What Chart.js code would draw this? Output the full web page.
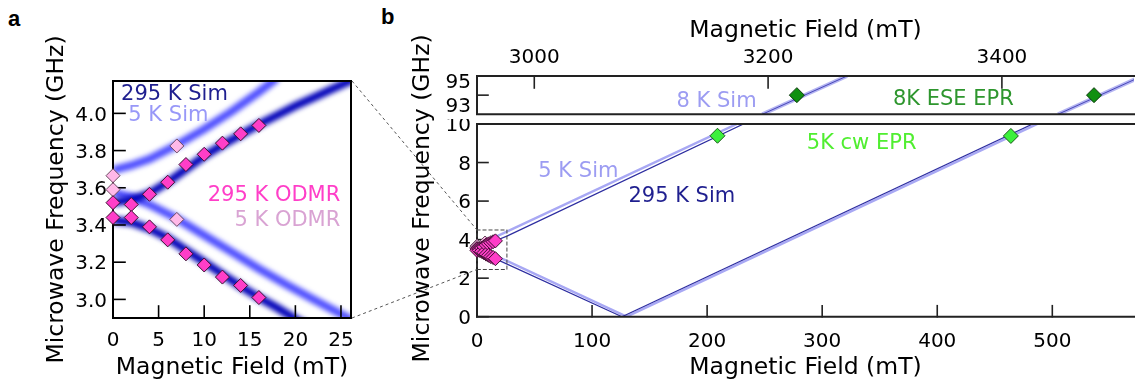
<!DOCTYPE html>
<html><head><meta charset="utf-8">
<script src="https://cdn.jsdelivr.net/npm/chart.js@4.4.1/dist/chart.umd.min.js"></script>
<style>
html,body{margin:0;padding:0;background:#fff;width:1135px;height:382px;overflow:hidden;position:relative;}
canvas{position:absolute;}
.lbl{position:absolute;font:bold 22px "Liberation Sans",Arial,sans-serif;line-height:22px;color:#000;}
</style></head><body>
<div class="lbl" style="left:8px;top:8px">a</div>
<div class="lbl" style="left:381px;top:6px">b</div>
<canvas id="ca" style="left:0;top:0" width="380" height="382"></canvas>
<canvas id="cbt" style="left:380px;top:0" width="755" height="119"></canvas>
<canvas id="cbb" style="left:380px;top:119px" width="755" height="263"></canvas>
<canvas id="ov" style="left:0;top:0;z-index:10;pointer-events:none" width="1135" height="382"></canvas>
<script>
// ================= DATA =================
// Panel a (zoom: 0-26 mT, 2.9-4.17 GHz)
const aFieldTicks = [0, 5, 10, 15, 20, 25];
const aFreqTicks = [3.0, 3.2, 3.4, 3.6, 3.8, 4.0];
const sim295UpField = [0, 2, 4, 6, 8, 10, 12, 14, 16, 18, 20, 22, 24, 26, 27];
const sim295UpFreq  = [3.52, 3.535, 3.57, 3.63, 3.70, 3.77, 3.83, 3.885, 3.94, 3.99, 4.04, 4.085, 4.13, 4.175, 4.2];
const sim295LoField = [0, 2, 4, 6, 8, 10, 12, 14, 16, 18, 20, 22];
const sim295LoFreq  = [3.425, 3.415, 3.38, 3.33, 3.265, 3.20, 3.135, 3.07, 3.01, 2.955, 2.895, 2.84];
const sim5UpField = [0, 2, 4, 7, 10, 13, 16, 18];
const sim5UpFreq  = [3.695, 3.72, 3.755, 3.83, 3.915, 4.01, 4.115, 4.19];
const sim5LoField = [0, 2, 4, 7, 10, 13, 16, 19, 22, 26, 27];
const sim5LoFreq  = [3.575, 3.55, 3.51, 3.435, 3.345, 3.255, 3.165, 3.08, 3.0, 2.895, 2.87];
const odmr295Field = [0, 0, 2, 2, 4, 4, 6, 6, 8, 8, 10, 10, 12, 12, 14, 14, 16, 16];
const odmr295Freq  = [3.52, 3.44, 3.51, 3.44, 3.565, 3.39, 3.63, 3.32, 3.725, 3.245, 3.78, 3.185, 3.84, 3.12, 3.89, 3.075, 3.935, 3.01];
const odmr5Field = [0, 0, 7, 7];
const odmr5Freq  = [3.665, 3.59, 3.825, 3.43];

// Panel b, lower plot (0-571 mT, 0-10 GHz)
const bFieldTicks = [0, 100, 200, 300, 400, 500];
const bFreqTicks = [0, 2, 4, 6, 8, 10];
const sim295bUpField = [0, 16, 26, 240];
const sim295bUpFreq  = [3.52, 3.94, 4.18, 10.24];
const sim295bLoField = [0, 20, 126];
const sim295bLoFreq  = [3.425, 2.895, 0];
const sim295bRiseField = [126, 490];
const sim295bRiseFreq  = [0, 10.2];
const sim5bUpField = [0, 18, 240];
const sim5bUpFreq  = [3.695, 4.19, 10.4];
const sim5bLoField = [0, 26, 130];
const sim5bLoFreq  = [3.575, 2.895, 0];
const sim5bRiseField = [130, 494];
const sim5bRiseFreq  = [0, 10.2];
const cwEprField = [209, 464];
const cwEprFreq  = [9.39, 9.38];
const zoomBoxField = [0, 26];
const zoomBoxFreq  = [2.45, 4.5];

// Panel b, upper plot (W band)
const bTopFieldTicks = [3000, 3200, 3400];
const bTopFreqTicks = [93, 95];
const bTopMinorTicks = [94];
const sim8K1Field = [3195, 3267.5];
const sim8K1Freq  = [93, 95];
const sim8K2Field = [3448, 3520];
const sim8K2Freq  = [93, 95];
const eseEprField = [3224.6, 3478.8];
const eseEprFreq  = [94.0, 94.0];

// ================= STYLE / HELPERS =================
const FONT = "'DejaVu Sans', sans-serif";
Chart.defaults.font.family = FONT;
Chart.defaults.color = '#000';
const pts = (xs, ys) => xs.map((x, i) => ({x: x, y: ys[i]}));
function lineDS(xs, ys, color, width, extra) {
  return Object.assign({data: pts(xs, ys), showLine: true, borderColor: color, borderWidth: width,
    pointRadius: 0, pointHoverRadius: 0, fill: false, tension: 0}, extra || {});
}
function pointDS(xs, ys, fill, stroke, r, extra) {
  return Object.assign({data: pts(xs, ys), showLine: false, pointStyle: 'rectRot', pointRadius: r,
    pointHoverRadius: r, pointBackgroundColor: fill, pointBorderColor: stroke, pointBorderWidth: 1,
    clip: false}, extra || {});
}
function drawFrame(chart) {
  const o = chart.options.plugins.frame || {};
  const ca = chart.chartArea, ctx = chart.ctx;
  ctx.save();
  ctx.strokeStyle = o.color || '#000';
  ctx.lineWidth = o.width || 2;
  ctx.lineCap = 'square';
  const sides = o.sides || ['top', 'right', 'bottom', 'left'];
  ctx.beginPath();
  if (sides.includes('top')) { ctx.moveTo(ca.left, ca.top); ctx.lineTo(ca.right, ca.top); }
  if (sides.includes('right')) { ctx.moveTo(ca.right, ca.top); ctx.lineTo(ca.right, ca.bottom); }
  if (sides.includes('bottom')) { ctx.moveTo(ca.left, ca.bottom); ctx.lineTo(ca.right, ca.bottom); }
  if (sides.includes('left')) { ctx.moveTo(ca.left, ca.top); ctx.lineTo(ca.left, ca.bottom); }
  ctx.stroke();
  // inner tick marks
  (o.marks || []).forEach(m => {
    const sc = chart.scales[m.scale];
    ctx.lineWidth = m.width || 1.6;
    m.values.forEach(v => {
      const p = sc.getPixelForValue(v);
      ctx.beginPath();
      if (m.side === 'bottom') { ctx.moveTo(p, ca.bottom); ctx.lineTo(p, ca.bottom - m.len); }
      if (m.side === 'top') { ctx.moveTo(p, ca.top); ctx.lineTo(p, ca.top + m.len); }
      if (m.side === 'left') { ctx.moveTo(ca.left, p); ctx.lineTo(ca.left + m.len, p); }
      ctx.stroke();
    });
  });
  // tick labels nudged inward (labels at the very ends of a short axis)
  (o.tickText || []).forEach(t => {
    const sc = chart.scales[t.scale];
    ctx.font = t.size + 'px ' + FONT; ctx.fillStyle = '#000';
    ctx.textAlign = 'right'; ctx.textBaseline = 'middle';
    t.values.forEach((v, i) => ctx.fillText(String(v), ca.left - t.pad, sc.getPixelForValue(v) + t.offsets[i]));
  });
  // dashed zoom box
  if (o.box) {
    const xs = chart.scales.x, ys = chart.scales.y;
    const x0 = xs.getPixelForValue(o.box.x[0]), x1 = xs.getPixelForValue(o.box.x[1]);
    const y0 = ys.getPixelForValue(o.box.y[1]), y1 = ys.getPixelForValue(o.box.y[0]);
    ctx.setLineDash([3, 3]); ctx.lineWidth = 1; ctx.strokeStyle = '#444';
    ctx.strokeRect(x0, y0, x1 - x0, y1 - y0);
    ctx.setLineDash([]);
  }
  ctx.restore();
}
const customPlugin = {
  id: 'custom',
  beforeDatasetDraw(chart, args) {
    const ds = chart.data.datasets[args.index];
    if (ds.blur) { chart.ctx.save(); chart.ctx.filter = 'blur(' + ds.blur + 'px)'; }
  },
  afterDatasetDraw(chart, args) {
    const ds = chart.data.datasets[args.index];
    if (ds.blur) chart.ctx.restore();
    if (ds.frameAfter) drawFrame(chart);
  },
  afterDatasetsDraw(chart) {
    const o = chart.options.plugins.textLabels || {};
    const ctx = chart.ctx;
    ctx.save();
    (o.items || []).forEach(it => {
      const xs = chart.scales[it.xAxis || 'x'], ys = chart.scales[it.yAxis || 'y'];
      ctx.font = (it.size || 21) + 'px ' + FONT;
      ctx.fillStyle = it.color;
      ctx.textAlign = it.align || 'left';
      ctx.textBaseline = 'middle';
      ctx.fillText(it.text, xs.getPixelForValue(it.x), ys.getPixelForValue(it.y));
    });
    ctx.restore();
  }
};
Chart.register(customPlugin);

const tickFont = {size: 20, family: FONT};
const titleFont = {size: 23.5, family: FONT};
function fixSize(w, h) {
  return s => {
    if (w !== null) s.width = w;
    if (h !== null) s.height = h;
    s.paddingLeft = 0; s.paddingRight = 0; s.paddingTop = 0; s.paddingBottom = 0;
  };
}
function linAxis(o) {
  return Object.assign({type: 'linear', grid: {display: false, drawTicks: false}, border: {display: false}}, o);
}
const baseOpts = {responsive: false, animation: false, events: [],
  plugins: {legend: {display: false}, tooltip: {enabled: false}}};

// ================= PANEL a =================
const chartA = new Chart(document.getElementById('ca'), {
  type: 'scatter',
  data: {datasets: [
    pointDS(odmr295Field, odmr295Freq, '#ff3ec8', '#3a0f2e', 7),
    pointDS(odmr5Field, odmr5Freq, '#ffb8e8', '#6a4a60', 7),
    lineDS(sim295UpField, sim295UpFreq, '#0000b8', 8, {blur: 2.6, frameAfter: true}),
    lineDS(sim295LoField, sim295LoFreq, '#0000b8', 8, {blur: 2.6}),
    lineDS(sim5UpField, sim5UpFreq, '#4c4cff', 8, {blur: 2.8}),
    lineDS(sim5LoField, sim5LoFreq, '#4c4cff', 8, {blur: 2.8}),
  ]},
  options: Object.assign({}, baseOpts, {
    layout: {autoPadding: false, padding: {top: 81, right: 29, bottom: 0, left: 0}},
    scales: {
      x: linAxis({position: 'bottom', min: 0, max: 26.1,
        afterBuildTicks: s => { s.ticks = aFieldTicks.map(v => ({value: v})); },
        afterFit: fixSize(null, 64),
        ticks: {font: tickFont, color: '#000', padding: 11, autoSkip: false, maxRotation: 0},
        title: {display: true, text: 'Magnetic Field (mT)', font: titleFont, color: '#000', padding: {top: 0, bottom: 0}}}),
      y: linAxis({position: 'left', min: 2.9, max: 4.174,
        afterBuildTicks: s => { s.ticks = aFreqTicks.map(v => ({value: v})); },
        afterFit: fixSize(113, null),
        ticks: {font: tickFont, color: '#000', padding: 6, labelOffset: 2, autoSkip: false, callback: v => v.toFixed(1)},
        title: {display: true, text: 'Microwave Frequency (GHz)', font: titleFont, color: '#000', padding: {top: 42.5, bottom: 0}}}),
    },
    plugins: Object.assign({}, baseOpts.plugins, {
      frame: {width: 2, marks: [
        {scale: 'x', side: 'bottom', values: aFieldTicks, len: 12},
        {scale: 'y', side: 'left', values: aFreqTicks, len: 12}]},
      textLabels: {items: [
        {text: '295 K Sim', x: 0.88, y: 4.10, color: '#1f1f8f'},
        {text: '5 K Sim', x: 1.68, y: 3.988, color: '#9898f8'},
        {text: '295 K ODMR', x: 24.93, y: 3.558, color: '#ff3ec8', align: 'right'},
        {text: '5 K ODMR', x: 24.93, y: 3.422, color: '#d9a3d3', align: 'right'}]}
    })
  })
});

// ================= PANEL b, upper =================
const chartBT = new Chart(document.getElementById('cbt'), {
  type: 'scatter',
  data: {datasets: [
    pointDS(eseEprField, eseEprFreq, '#109010', '#0a3a0a', 7.5),
    lineDS(sim8K1Field, sim8K1Freq, '#4848b8', 1, {frameAfter: true}),
    lineDS(sim8K2Field, sim8K2Freq, '#4848b8', 1),
    lineDS(sim8K1Field, sim8K1Freq, '#b4b4f2', 4),
    lineDS(sim8K2Field, sim8K2Freq, '#b4b4f2', 4),
  ]},
  options: Object.assign({}, baseOpts, {
    layout: {autoPadding: false, padding: {top: 0, right: 1, bottom: 4.7, left: 0}},
    scales: {
      x: linAxis({position: 'top', min: 2951, max: 3513,
        afterBuildTicks: s => { s.ticks = bTopFieldTicks.map(v => ({value: v})); },
        afterFit: fixSize(null, 76),
        ticks: {font: tickFont, color: '#000', padding: 6, autoSkip: false, maxRotation: 0, callback: v => String(v)},
        title: {display: true, text: 'Magnetic Field (mT)', font: titleFont, color: '#000', padding: {top: 17, bottom: 0}}}),
      y: linAxis({position: 'left', min: 93, max: 95,
        afterBuildTicks: s => { s.ticks = bTopFreqTicks.map(v => ({value: v})); },
        afterFit: fixSize(97, null),
        ticks: {display: false}}),
    },
    plugins: Object.assign({}, baseOpts.plugins, {
      frame: {width: 2, color: '#222', sides: ['top', 'bottom', 'left'],
        tickText: [{scale: 'y', values: bTopFreqTicks, offsets: [-8, 6.5], pad: 6, size: 20}],
        marks: [
        {scale: 'x', side: 'top', values: bTopFieldTicks, len: 12},
        {scale: 'y', side: 'left', values: bTopMinorTicks, len: 11}]},
      textLabels: {items: [
        {text: '8 K Sim', x: 3121.7, y: 93.64, color: '#9c9cf2'},
        {text: '8K ESE EPR', x: 3306.8, y: 93.78, color: '#2e962e'}]}
    })
  })
});

// ================= PANEL b, lower =================
const chartBB = new Chart(document.getElementById('cbb'), {
  type: 'scatter',
  data: {datasets: [
    pointDS(cwEprField, cwEprFreq, '#3cf03c', '#1a5a1a', 7.5),
    pointDS(odmr295Field, odmr295Freq, '#ff3ec8', '#3a0f2e', 7),
    pointDS(odmr5Field, odmr5Freq, '#ffb8e8', '#6a4a60', 7),
    lineDS(sim295bUpField, sim295bUpFreq, '#2d2da0', 1.2, {frameAfter: true}),
    lineDS(sim295bLoField, sim295bLoFreq, '#2d2da0', 1.2),
    lineDS(sim295bRiseField, sim295bRiseFreq, '#2d2da0', 1.2),
    lineDS(sim5bUpField, sim5bUpFreq, '#a8a8f4', 2.4),
    lineDS(sim5bLoField, sim5bLoFreq, '#a8a8f4', 2.4),
    lineDS(sim5bRiseField, sim5bRiseFreq, '#a8a8f4', 2.4),
  ]},
  options: Object.assign({}, baseOpts, {
    layout: {autoPadding: false, padding: {top: 5, right: 1, bottom: 0, left: 0}},
    scales: {
      x: linAxis({position: 'bottom', min: 0, max: 571,
        afterBuildTicks: s => { s.ticks = bFieldTicks.map(v => ({value: v})); },
        afterFit: fixSize(null, 65.3),
        ticks: {font: tickFont, color: '#000', padding: 13.5, autoSkip: false, maxRotation: 0},
        title: {display: true, text: 'Magnetic Field (mT)', font: titleFont, color: '#000', padding: {top: 0, bottom: 0}}}),
      y: linAxis({position: 'left', min: 0, max: 10,
        afterBuildTicks: s => { s.ticks = bFreqTicks.map(v => ({value: v})); },
        afterFit: fixSize(97, null),
        ticks: {font: tickFont, color: '#000', padding: 6, labelOffset: 2, autoSkip: false}}),
    },
    plugins: Object.assign({}, baseOpts.plugins, {
      frame: {width: 2, color: '#222', sides: ['top', 'bottom', 'left'], box: {x: zoomBoxField, y: zoomBoxFreq}, marks: [
        {scale: 'x', side: 'bottom', values: bFieldTicks, len: 11},
        {scale: 'y', side: 'left', values: bFreqTicks, len: 11}]},
      textLabels: {items: [
        {text: '5 K Sim', x: 53.3, y: 7.51, color: '#9c9cf2'},
        {text: '295 K Sim', x: 131.6, y: 6.21, color: '#1f1f8f'},
        {text: '5K cw EPR', x: 286.6, y: 9.01, color: '#50ee30'}]}
    })
  })
});

// ================= OVERLAY: connectors + shared y title =================
(function () {
  const ov = document.getElementById('ov').getContext('2d');
  const caA = chartA.chartArea;
  const offB = {x: 380, y: 119};
  const xs = chartBB.scales.x, ys = chartBB.scales.y;
  const bx = xs.getPixelForValue(zoomBoxField[0]) + offB.x;
  const byTop = ys.getPixelForValue(zoomBoxFreq[1]) + offB.y;
  const byBot = ys.getPixelForValue(zoomBoxFreq[0]) + offB.y;
  ov.save();
  ov.strokeStyle = '#555'; ov.lineWidth = 1; ov.setLineDash([3, 3]);
  ov.beginPath(); ov.moveTo(caA.right + 1, caA.top); ov.lineTo(bx, byTop); ov.stroke();
  ov.beginPath(); ov.moveTo(caA.right + 1, caA.bottom); ov.lineTo(bx, byBot); ov.stroke();
  ov.restore();
  // shared y-axis title of panel b (spans both plots)
  const topY = chartBT.chartArea.top, botY = chartBB.chartArea.bottom + offB.y;
  ov.save();
  ov.translate(422.4, (topY + botY) / 2 + 2);
  ov.rotate(-Math.PI / 2);
  ov.font = '23.5px ' + FONT; ov.fillStyle = '#000';
  ov.textAlign = 'center'; ov.textBaseline = 'middle';
  ov.fillText('Microwave Frequency (GHz)', 0, 0);
  ov.restore();
})();
</script>
</body></html>
